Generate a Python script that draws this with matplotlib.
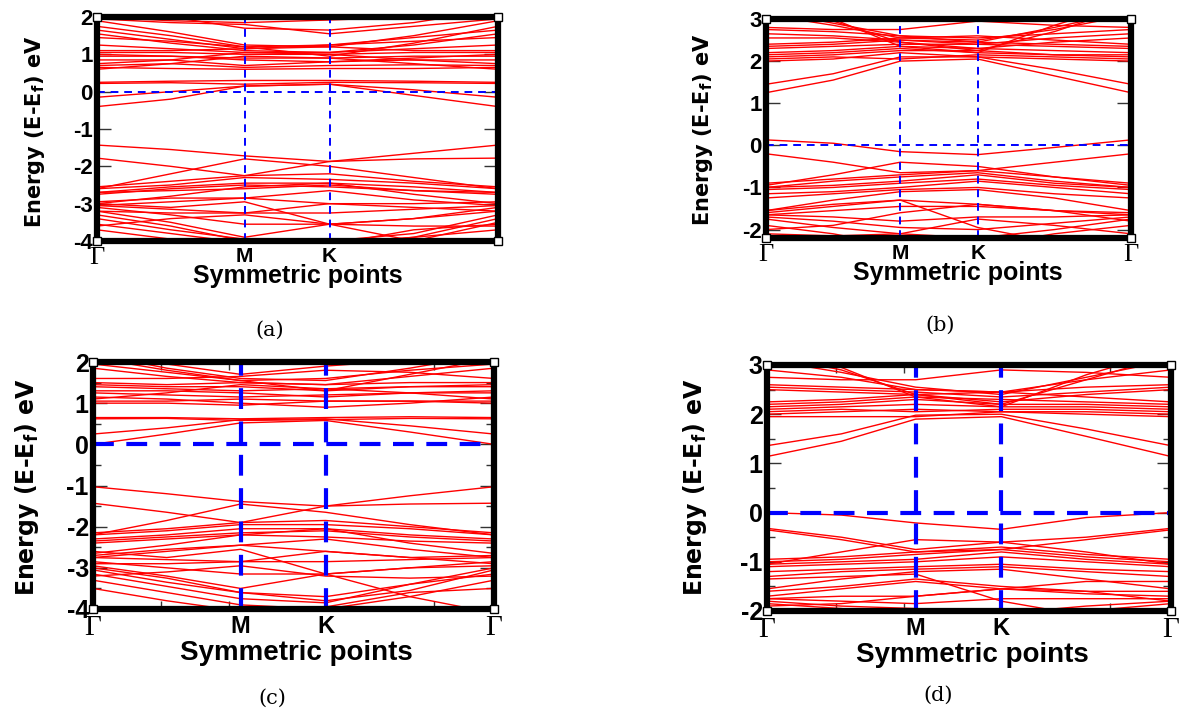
import matplotlib
matplotlib.use("Agg")
import matplotlib.pyplot as plt

plt.rcParams["axes.unicode_minus"] = False
plt.rcParams["mathtext.fontset"] = "custom"
plt.rcParams["mathtext.bf"] = "DejaVu Sans:bold"
plt.rcParams["mathtext.rm"] = "DejaVu Sans"

W, H = 1201, 715

# high-symmetry path, fraction of total length: Gamma, mid, M, K, mid, Gamma
kpath = [0.0, 0.184, 0.368, 0.58, 0.79, 1.0]
k_labels = ["Γ", "M", "K", "Γ"]

# band energies (eV) at the kpath points
bands_a = [
    [-0.40, -0.20, 0.15, 0.20, -0.10, -0.40],
    [-0.15, 0.00, 0.15, 0.20, 0.05, -0.15],
    [0.25, 0.28, 0.30, 0.30, 0.28, 0.25],
    [0.22, 0.24, 0.20, 0.25, 0.24, 0.22],
    [0.65, 0.62, 0.60, 0.62, 0.62, 0.65],
    [0.70, 0.75, 0.65, 0.70, 0.72, 0.70],
    [0.85, 0.85, 0.70, 0.80, 0.85, 0.85],
    [0.95, 0.95, 0.90, 0.90, 0.95, 0.95],
    [1.05, 1.05, 1.00, 1.00, 1.05, 1.05],
    [1.10, 1.10, 1.15, 1.20, 1.10, 1.10],
    [1.00, 0.95, 0.85, 0.80, 0.90, 1.00],
    [0.75, 0.85, 1.05, 1.00, 0.85, 0.75],
    [1.25, 1.15, 1.05, 1.05, 1.15, 1.25],
    [1.55, 1.30, 1.10, 1.05, 1.25, 1.55],
    [1.65, 1.40, 1.15, 1.25, 1.45, 1.65],
    [1.75, 1.50, 1.20, 0.95, 1.30, 1.75],
    [1.90, 1.60, 1.25, 1.20, 1.50, 1.90],
    [1.95, 1.85, 1.80, 1.55, 1.75, 1.95],
    [2.00, 1.90, 1.85, 1.92, 2.00, 2.00],
    [2.20, 2.00, 1.70, 1.65, 1.85, 2.20],
    [1.45, 1.35, 1.20, 1.25, 1.35, 1.45],
    [0.60, 0.75, 0.95, 0.90, 0.75, 0.60],
    [-1.43, -1.55, -1.72, -1.87, -1.65, -1.43],
    [-1.78, -2.00, -2.25, -1.87, -1.80, -1.78],
    [-2.60, -2.20, -1.80, -2.00, -2.30, -2.60],
    [-2.55, -2.40, -2.25, -2.20, -2.40, -2.55],
    [-2.60, -2.50, -2.30, -2.35, -2.45, -2.60],
    [-2.70, -2.55, -2.45, -2.45, -2.55, -2.70],
    [-2.75, -2.60, -2.50, -2.55, -2.65, -2.75],
    [-2.70, -2.65, -2.60, -2.50, -2.65, -2.70],
    [-3.00, -2.80, -2.55, -2.45, -2.75, -3.00],
    [-2.95, -2.85, -2.85, -3.00, -3.00, -2.95],
    [-3.05, -2.95, -2.85, -2.65, -2.90, -3.05],
    [-3.05, -3.15, -3.25, -3.25, -3.15, -3.05],
    [-3.10, -3.30, -3.55, -3.55, -3.40, -3.10],
    [-3.20, -3.50, -3.90, -3.55, -3.40, -3.20],
    [-3.30, -3.60, -4.00, -4.00, -3.80, -3.30],
    [-3.40, -3.70, -3.95, -4.10, -3.90, -3.40],
    [-3.55, -3.80, -4.05, -4.10, -3.70, -3.55],
    [-3.00, -3.10, -2.95, -3.55, -4.00, -3.50],
    [-3.60, -3.40, -3.30, -3.55, -3.60, -3.60],
    [-3.70, -3.95, -4.20, -4.10, -3.90, -3.70],
    [-3.20, -3.25, -3.25, -3.00, -3.10, -3.20],
]

bands_b = [
    [1.25, 1.55, 2.00, 2.05, 1.65, 1.25],
    [1.45, 1.70, 2.10, 2.10, 1.80, 1.45],
    [2.00, 2.05, 2.20, 2.10, 2.05, 2.00],
    [2.10, 2.15, 2.25, 2.25, 2.15, 2.10],
    [2.20, 2.25, 2.35, 2.30, 2.25, 2.20],
    [2.30, 2.35, 2.40, 2.40, 2.35, 2.30],
    [2.35, 2.40, 2.50, 2.45, 2.40, 2.35],
    [2.40, 2.45, 2.55, 2.60, 2.50, 2.40],
    [2.55, 2.55, 2.45, 2.30, 2.45, 2.55],
    [2.65, 2.60, 2.50, 2.40, 2.55, 2.65],
    [2.75, 2.70, 2.60, 2.55, 2.65, 2.75],
    [2.80, 2.75, 2.75, 2.95, 2.85, 2.80],
    [3.10, 2.85, 2.55, 2.50, 2.75, 3.10],
    [3.20, 2.90, 2.60, 2.45, 2.80, 3.20],
    [3.30, 2.95, 2.45, 2.25, 2.70, 3.30],
    [2.15, 2.20, 2.30, 2.20, 2.15, 2.15],
    [3.40, 3.00, 2.35, 2.20, 2.85, 3.40],
    [2.05, 2.10, 2.05, 2.15, 2.10, 2.05],
    [0.13, 0.05, -0.15, -0.22, -0.05, 0.13],
    [-0.20, -0.40, -0.65, -0.60, -0.40, -0.20],
    [-0.95, -0.70, -0.40, -0.50, -0.75, -0.95],
    [-0.90, -0.80, -0.70, -0.60, -0.75, -0.90],
    [-1.00, -0.85, -0.75, -0.65, -0.85, -1.00],
    [-1.00, -0.95, -0.85, -0.70, -0.90, -1.00],
    [-1.05, -1.00, -0.90, -0.80, -0.95, -1.05],
    [-1.15, -1.10, -1.00, -0.85, -1.00, -1.15],
    [-1.25, -1.15, -1.05, -1.00, -1.15, -1.25],
    [-1.55, -1.30, -1.10, -1.05, -1.25, -1.55],
    [-1.60, -1.45, -1.30, -1.40, -1.55, -1.60],
    [-1.65, -1.55, -1.45, -1.45, -1.55, -1.65],
    [-1.65, -1.70, -1.80, -1.70, -1.70, -1.65],
    [-1.70, -1.80, -1.95, -2.00, -1.85, -1.70],
    [-1.75, -1.95, -2.10, -2.20, -2.00, -1.75],
    [-1.55, -1.40, -1.30, -1.95, -2.30, -2.40],
    [-2.00, -1.90, -1.60, -1.40, -1.55, -1.80],
    [-2.10, -2.15, -2.10, -1.75, -1.90, -2.10],
    [-1.90, -2.10, -2.40, -2.40, -2.10, -1.90],
]

bands_c = [
    [0.00, 0.25, 0.52, 0.58, 0.30, 0.00],
    [0.25, 0.40, 0.60, 0.62, 0.45, 0.25],
    [0.65, 0.65, 0.62, 0.65, 0.67, 0.65],
    [0.62, 0.63, 0.58, 0.60, 0.63, 0.62],
    [1.00, 1.00, 0.95, 1.05, 1.05, 1.00],
    [1.05, 1.05, 1.10, 1.05, 1.05, 1.05],
    [1.15, 1.10, 1.00, 0.90, 1.00, 1.15],
    [1.25, 1.20, 1.15, 1.20, 1.25, 1.25],
    [1.30, 1.30, 1.25, 1.15, 1.25, 1.30],
    [1.40, 1.35, 1.30, 1.35, 1.40, 1.40],
    [1.45, 1.40, 1.40, 1.30, 1.40, 1.45],
    [1.50, 1.45, 1.50, 1.45, 1.50, 1.50],
    [1.10, 1.25, 1.45, 1.35, 1.25, 1.10],
    [1.85, 1.65, 1.50, 1.45, 1.65, 1.85],
    [1.95, 1.75, 1.55, 1.60, 1.80, 1.95],
    [2.10, 1.80, 1.55, 1.30, 1.70, 2.10],
    [2.20, 1.85, 1.60, 1.55, 1.85, 2.20],
    [1.60, 1.60, 1.65, 1.80, 1.75, 1.60],
    [2.30, 1.95, 1.70, 1.90, 2.05, 2.30],
    [-1.03, -1.20, -1.39, -1.50, -1.25, -1.03],
    [-1.43, -1.65, -1.90, -1.50, -1.45, -1.43],
    [-2.20, -1.85, -1.45, -1.65, -1.95, -2.20],
    [-2.15, -2.05, -1.90, -1.85, -2.00, -2.15],
    [-2.20, -2.10, -1.95, -1.95, -2.05, -2.20],
    [-2.30, -2.20, -2.05, -2.05, -2.20, -2.30],
    [-2.35, -2.25, -2.15, -2.10, -2.25, -2.35],
    [-2.40, -2.30, -2.20, -2.25, -2.35, -2.40],
    [-2.65, -2.45, -2.20, -2.05, -2.40, -2.65],
    [-2.70, -2.55, -2.45, -2.60, -2.75, -2.70],
    [-2.75, -2.60, -2.45, -2.30, -2.55, -2.75],
    [-2.75, -2.80, -2.85, -2.85, -2.80, -2.75],
    [-2.85, -3.00, -3.15, -3.15, -3.00, -2.85],
    [-2.95, -3.20, -3.50, -3.15, -3.00, -2.95],
    [-3.00, -3.25, -3.60, -3.70, -3.40, -3.00],
    [-3.05, -3.35, -3.60, -3.80, -3.55, -3.05],
    [-3.15, -3.45, -3.75, -3.85, -3.40, -3.15],
    [-2.60, -2.75, -2.55, -3.15, -3.70, -4.10],
    [-3.30, -3.60, -3.90, -4.00, -3.70, -3.30],
    [-3.20, -3.10, -2.95, -3.20, -3.25, -3.20],
    [-3.50, -3.80, -4.05, -3.95, -3.60, -3.50],
    [-2.90, -2.90, -2.85, -2.60, -2.75, -2.90],
]

bands_d = [
    [1.14, 1.45, 1.90, 1.95, 1.55, 1.14],
    [1.36, 1.60, 1.98, 2.00, 1.70, 1.36],
    [1.95, 1.95, 1.95, 2.05, 2.00, 1.95],
    [2.00, 2.05, 2.10, 2.05, 2.05, 2.00],
    [2.10, 2.15, 2.20, 2.15, 2.15, 2.10],
    [2.15, 2.20, 2.30, 2.20, 2.20, 2.15],
    [2.20, 2.25, 2.35, 2.30, 2.25, 2.20],
    [2.25, 2.30, 2.40, 2.45, 2.35, 2.25],
    [2.50, 2.45, 2.40, 2.25, 2.40, 2.50],
    [2.55, 2.50, 2.45, 2.35, 2.45, 2.55],
    [2.60, 2.55, 2.50, 2.45, 2.55, 2.60],
    [2.75, 2.70, 2.70, 2.90, 2.85, 2.75],
    [2.90, 2.75, 2.50, 2.45, 2.70, 2.90],
    [3.10, 2.85, 2.55, 2.40, 2.75, 3.10],
    [3.20, 2.90, 2.40, 2.20, 2.70, 3.20],
    [3.30, 2.95, 2.35, 2.15, 2.80, 3.30],
    [2.05, 2.10, 2.05, 2.10, 2.10, 2.05],
    [0.00, -0.05, -0.21, -0.34, -0.10, 0.00],
    [-0.32, -0.50, -0.75, -0.60, -0.50, -0.32],
    [-0.35, -0.55, -0.80, -0.75, -0.55, -0.35],
    [-1.05, -0.80, -0.55, -0.60, -0.80, -1.05],
    [-0.95, -0.90, -0.80, -0.70, -0.85, -0.95],
    [-1.00, -0.95, -0.85, -0.75, -0.90, -1.00],
    [-1.05, -1.00, -0.95, -0.80, -0.95, -1.05],
    [-1.10, -1.05, -1.00, -0.90, -1.00, -1.10],
    [-1.20, -1.15, -1.10, -1.05, -1.15, -1.20],
    [-1.30, -1.20, -1.15, -1.10, -1.20, -1.30],
    [-1.55, -1.35, -1.20, -1.15, -1.35, -1.55],
    [-1.60, -1.50, -1.35, -1.50, -1.60, -1.60],
    [-1.70, -1.55, -1.40, -1.55, -1.65, -1.70],
    [-1.75, -1.80, -1.85, -1.75, -1.75, -1.75],
    [-1.80, -1.90, -1.95, -2.05, -1.90, -1.80],
    [-1.85, -1.95, -2.10, -2.10, -2.00, -1.85],
    [-1.35, -1.30, -1.25, -1.80, -2.10, -2.20],
    [-1.90, -1.85, -1.70, -1.55, -1.60, -1.80],
    [-1.75, -1.70, -1.70, -1.55, -1.40, -1.40],
]

fig = plt.figure(figsize=(W / 100, H / 100), dpi=100)


def px_box(l, t, r, b):
    return [l / W, 1 - b / H, (r - l) / W, (b - t) / H]


def fpos(x, y):
    return x / W, 1 - y / H


panels = [
    dict(bands=bands_a, box=(97, 17, 498, 241), ylim=(-4, 2), yt=range(-4, 3),
         big=False, cap="(a)", cap_xy=(270, 330), yl_xy=(35, 132), xl_xy=(298, 276), endlab=False),
    dict(bands=bands_b, box=(766, 19, 1131, 238), ylim=(-2.2, 3), yt=range(-2, 4),
         big=False, cap="(b)", cap_xy=(940, 325), yl_xy=(703, 130), xl_xy=(958, 273), endlab=True),
    dict(bands=bands_c, box=(93, 362, 494, 609), ylim=(-4, 2), yt=range(-4, 3),
         big=True, cap="(c)", cap_xy=(272, 698), yl_xy=(27, 487), xl_xy=(296, 653), endlab=True),
    dict(bands=bands_d, box=(767, 365, 1171, 611), ylim=(-2, 3), yt=range(-2, 4),
         big=True, cap="(d)", cap_xy=(938, 695), yl_xy=(695, 487), xl_xy=(972, 655), endlab=True),
]

for p in panels:
    ax = fig.add_axes(px_box(*p["box"]))
    for band in p["bands"]:
        ax.plot(kpath, band, color="red", lw=1.0, solid_joinstyle="round")

    kM, kK = kpath[2], kpath[3]
    if p["big"]:
        dash = dict(color="blue", lw=3.0, dashes=(5, 3))
        fs_tick, fs_k, fs_x, fs_y = 18, 17, 20, 17
    else:
        dash = dict(color="blue", lw=1.4, dashes=(4, 3))
        fs_tick, fs_k, fs_x, fs_y = 16, 15, 18, 15
    ax.axhline(0, **dash)
    ax.axvline(kM, **dash)
    ax.axvline(kK, **dash)

    ax.set_xlim(0, 1)
    ax.set_ylim(*p["ylim"])
    for s in ax.spines.values():
        s.set_linewidth(4.5)
        s.set_color("black")

    ax.set_yticks(list(p["yt"]))
    ax.set_yticklabels([str(v) for v in p["yt"]], fontweight="bold",
                       fontsize=fs_tick, family="Liberation Sans")
    ax.tick_params(axis="y", direction="in", length=10, width=1, color="#333333",
                   left=True, right=True, pad=3)
    if p["big"]:
        ax.set_yticks([v + 0.5 for v in p["yt"]][:-1], minor=True)
        ax.set_xticks([0.17, 0.34, 0.85], minor=True)
        ax.tick_params(which="minor", direction="in", length=6, width=1,
                       color="#333333", left=True, right=True, top=True, bottom=True)

    ax.set_xticks([0, kM, kK, 1])
    labs = ax.set_xticklabels([k_labels[0], k_labels[1], k_labels[2],
                               k_labels[3] if p["endlab"] else ""])
    ax.tick_params(axis="x", which="major", length=0, pad=4)
    for i, t in enumerate(labs):
        if i in (0, 3):
            t.set_family("Liberation Serif")
            t.set_fontsize(fs_k + 4)
        else:
            t.set_family("Liberation Sans")
            t.set_fontweight("bold")
            t.set_fontsize(fs_k)

    # corner squares left by the original plotting program
    for cx in (0, 1):
        for cy in p["ylim"]:
            ax.plot(cx, cy, marker="s", ms=6, mfc="white", mec="black", mew=1,
                    clip_on=False, zorder=5)

    fig.text(*fpos(*p["yl_xy"]), "Energy (E-E$_{\\mathbf{f}}$) eV", rotation=90,
             ha="center", va="center", fontsize=fs_y, fontweight="bold",
             family="DejaVu Sans")
    fig.text(*fpos(*p["xl_xy"]), "Symmetric points", ha="center", va="center",
             fontsize=fs_x, fontweight="bold", family="Liberation Sans")
    fig.text(*fpos(*p["cap_xy"]), p["cap"], ha="center", va="center",
             fontsize=15, family="DejaVu Serif")

fig.savefig("out.png", dpi=100)
